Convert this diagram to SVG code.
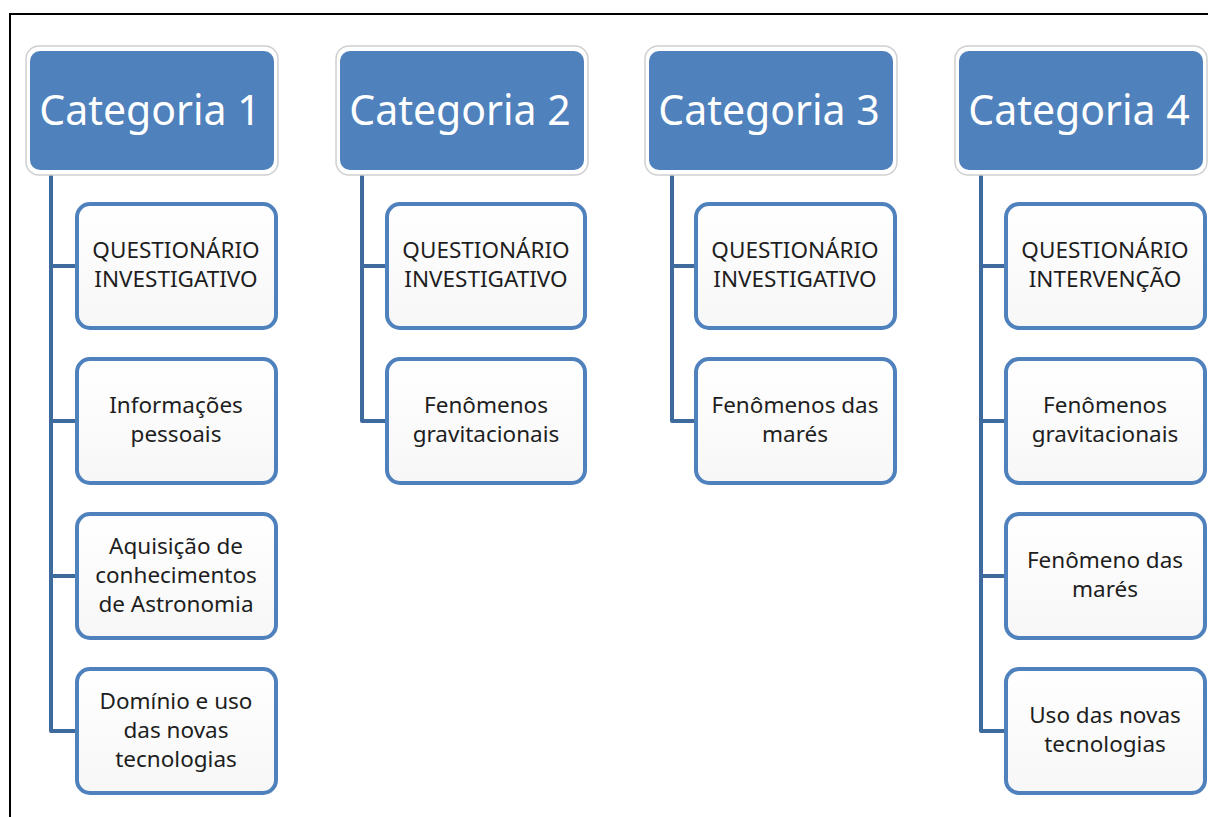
<svg xmlns="http://www.w3.org/2000/svg" width="1208" height="817" viewBox="0 0 1208 817">
<defs>
<linearGradient id="cg" x1="0" y1="0" x2="0" y2="1">
<stop offset="0" stop-color="#ffffff"/>
<stop offset="1" stop-color="#f7f7f7"/>
</linearGradient>
<style>
.hdr-out{fill:#ffffff;stroke:#d0d0d0;stroke-width:1.5}
.hdr{fill:#4f81bd;stroke:none}
.ht{font-family:"Noto Sans","Open Sans",sans-serif;font-size:41px;fill:#ffffff;text-anchor:middle}
.ch{fill:url(#cg);stroke:#4f81bd;stroke-width:4}
.ct{font-family:"Noto Sans","Open Sans",sans-serif;font-size:22.5px;fill:#1e1e1e;text-anchor:middle}
.con{fill:none;stroke:#3e6a9e;stroke-width:4;stroke-linejoin:round}
</style>
</defs>
<rect width="1208" height="817" fill="#ffffff"/>
<path d="M10,817 V14 H1208" fill="none" stroke="#000" stroke-width="2"/>
<g id="connectors">
<path class="con" d="M51,172 V731 H78 M51,266 H78 M51,421 H78 M51,576 H78"/>
<path class="con" d="M362,172 V421 H388 M362,266 H388"/>
<path class="con" d="M672,172 V421 H697 M672,266 H697"/>
<path class="con" d="M981,172 V731 H1007 M981,266 H1007 M981,421 H1007 M981,576 H1007"/>
</g>
<g id="cat1">
<rect class="hdr-out" x="26" y="46" width="252" height="129" rx="13"/>
<rect class="hdr" x="30" y="51" width="244" height="119" rx="10"/>
<text class="ht" x="150" y="125">Categoria 1</text>
</g>
<g id="cat2">
<rect class="hdr-out" x="336" y="46" width="252" height="129" rx="13"/>
<rect class="hdr" x="340" y="51" width="244" height="119" rx="10"/>
<text class="ht" x="460" y="125">Categoria 2</text>
</g>
<g id="cat3">
<rect class="hdr-out" x="645" y="46" width="252" height="129" rx="13"/>
<rect class="hdr" x="649" y="51" width="244" height="119" rx="10"/>
<text class="ht" x="769" y="125">Categoria 3</text>
</g>
<g id="cat4">
<rect class="hdr-out" x="955" y="46" width="252" height="129" rx="13"/>
<rect class="hdr" x="959" y="51" width="244" height="119" rx="10"/>
<text class="ht" x="1079" y="125">Categoria 4</text>
</g>
<g id="c1a"><rect class="ch" x="77" y="204" width="199" height="124" rx="13"/><text class="ct" x="176" y="258">QUESTIONÁRIO</text><text class="ct" x="176" y="287">INVESTIGATIVO</text></g>
<g id="c1b"><rect class="ch" x="77" y="359" width="199" height="124" rx="13"/><text class="ct" x="176" y="413">Informações</text><text class="ct" x="176" y="442">pessoais</text></g>
<g id="c1c"><rect class="ch" x="77" y="514" width="199" height="124" rx="13"/><text class="ct" x="176" y="554">Aquisição de</text><text class="ct" x="176" y="583">conhecimentos</text><text class="ct" x="176" y="612">de Astronomia</text></g>
<g id="c1d"><rect class="ch" x="77" y="669" width="199" height="124" rx="13"/><text class="ct" x="176" y="709">Domínio e uso</text><text class="ct" x="176" y="738">das novas</text><text class="ct" x="176" y="767">tecnologias</text></g>
<g id="c2a"><rect class="ch" x="387" y="204" width="198" height="124" rx="13"/><text class="ct" x="486" y="258">QUESTIONÁRIO</text><text class="ct" x="486" y="287">INVESTIGATIVO</text></g>
<g id="c2b"><rect class="ch" x="387" y="359" width="198" height="124" rx="13"/><text class="ct" x="486" y="413">Fenômenos</text><text class="ct" x="486" y="442">gravitacionais</text></g>
<g id="c3a"><rect class="ch" x="696" y="204" width="199" height="124" rx="13"/><text class="ct" x="795" y="258">QUESTIONÁRIO</text><text class="ct" x="795" y="287">INVESTIGATIVO</text></g>
<g id="c3b"><rect class="ch" x="696" y="359" width="199" height="124" rx="13"/><text class="ct" x="795" y="413">Fenômenos das</text><text class="ct" x="795" y="442">marés</text></g>
<g id="c4a"><rect class="ch" x="1006" y="204" width="199" height="124" rx="13"/><text class="ct" x="1105" y="258">QUESTIONÁRIO</text><text class="ct" x="1105" y="287">INTERVENÇÃO</text></g>
<g id="c4b"><rect class="ch" x="1006" y="359" width="199" height="124" rx="13"/><text class="ct" x="1105" y="413">Fenômenos</text><text class="ct" x="1105" y="442">gravitacionais</text></g>
<g id="c4c"><rect class="ch" x="1006" y="514" width="199" height="124" rx="13"/><text class="ct" x="1105" y="568">Fenômeno das</text><text class="ct" x="1105" y="597">marés</text></g>
<g id="c4d"><rect class="ch" x="1006" y="669" width="199" height="124" rx="13"/><text class="ct" x="1105" y="723">Uso das novas</text><text class="ct" x="1105" y="752">tecnologias</text></g>
</svg>
